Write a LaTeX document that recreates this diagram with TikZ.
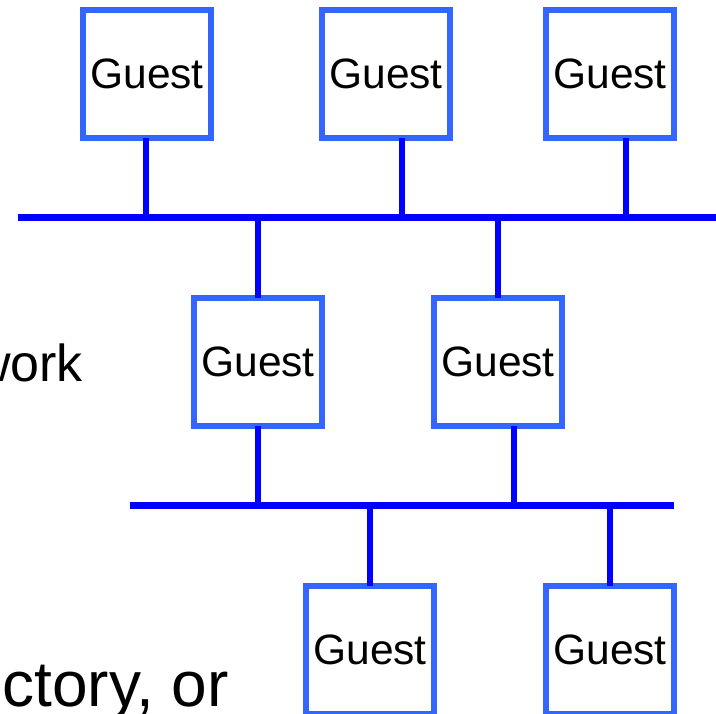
\documentclass[tikz,border=0pt]{standalone}
\usepackage{fontspec}
\setmainfont{Liberation Sans}
\definecolor{boxblue}{RGB}{51,102,255}
\definecolor{linkblue}{RGB}{0,0,255}
\tikzset{
  guest/.style={draw=boxblue, line width=6pt, minimum width=128pt, minimum height=128pt,
    inner sep=0pt, font=\fontsize{42.5}{50}\selectfont, fill=white},
  bus/.style={draw=linkblue, line width=7pt},
  link/.style={draw=linkblue, line width=6pt},
  slidetext/.style={inner sep=0pt, anchor=base east}
}
\begin{document}
\begin{tikzpicture}[x=1pt,y=-1pt]
\useasboundingbox (0,0) rectangle (716,714);
\clip (0,0) rectangle (716,714);
\fill[white] (0,0) rectangle (716,714);
% slide text (clipped)
\node[slidetext, font=\fontsize{52}{60}\selectfont] (t1) at (83,382) {work};
\node[slidetext, font=\fontsize{64}{72}\selectfont] (t2) at (229,706) {ctory, or};
% buses
\coordinate (b1l) at (18,217.5);
\coordinate (b1r) at (720,217.5);
\coordinate (b2l) at (130,505.5);
\coordinate (b2r) at (674,505.5);
% guests
\node[guest] (g1) at (147,74) {Guest};
\node[guest] (g2) at (386,74) {Guest};
\node[guest] (g3) at (610,74) {Guest};
\node[guest] (g4) at (258,362) {Guest};
\node[guest] (g5) at (498,362) {Guest};
\node[guest] (g6) at (370,650) {Guest};
\node[guest] (g7) at (610,650) {Guest};
% connectors
\draw[link] ([xshift=-1pt,yshift=3pt]g1.south) -- ([xshift=-1pt]g1.south |- b1l);
\draw[link] ([xshift=16pt,yshift=3pt]g2.south) -- ([xshift=16pt]g2.south |- b1l);
\draw[link] ([xshift=16pt,yshift=3pt]g3.south) -- ([xshift=16pt]g3.south |- b1l);
\draw[link] (g4.north |- b1l) -- ([yshift=-3pt]g4.north);
\draw[link] (g5.north |- b1l) -- ([yshift=-3pt]g5.north);
\draw[link] ([yshift=3pt]g4.south) -- (g4.south |- b2l);
\draw[link] ([xshift=16pt,yshift=3pt]g5.south) -- ([xshift=16pt]g5.south |- b2l);
\draw[link] (g6.north |- b2l) -- ([yshift=-3pt]g6.north);
\draw[link] (g7.north |- b2l) -- ([yshift=-3pt]g7.north);
\draw[bus] (b1l) -- (b1r);
\draw[bus] (b2l) -- (b2r);
\end{tikzpicture}
\end{document}
